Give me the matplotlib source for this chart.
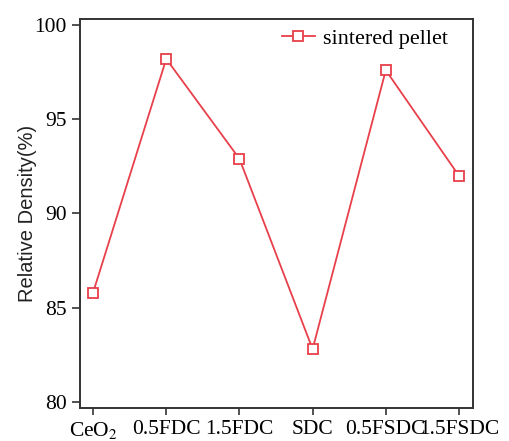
import matplotlib
matplotlib.use("Agg")
import matplotlib.pyplot as plt

# Relative density of sintered pellets per composition
samples = ["CeO$_2$", "0.5FDC", "1.5FDC", "SDC", "0.5FSDC", "1.5FSDC"]
density = [85.8, 98.2, 92.9, 82.8, 97.6, 92.0]
yticks = [80, 85, 90, 95, 100]

RED = "#e8404a"

plt.rcParams["font.family"] = ["Liberation Serif", "DejaVu Serif"]
plt.rcParams["mathtext.fontset"] = "stix"

fig = plt.figure(figsize=(5.09, 4.41), dpi=100)
ax = fig.add_axes([0.157, 0.075, 0.772, 0.882])

x = list(range(len(samples)))
ax.plot(x, density, color=RED, lw=1.3, marker="s", ms=7.5,
        mfc="white", mec=RED, mew=1.3, label="sintered pellet")

ax.set_xlim(-0.18, 5.19)
ax.set_ylim(79.68, 100.32)
ax.set_xticks(x)
ax.set_xticklabels(samples, fontsize=15.5)
ax.set_yticks(yticks)
ax.set_yticklabels([str(v) for v in yticks], fontsize=15.5)
ax.tick_params(axis="x", direction="out", length=5, width=1.2,
               color="#333333", pad=3.5)
ax.tick_params(axis="y", direction="out", length=6, width=1.2,
               color="#333333", pad=3.5)

for sp in ax.spines.values():
    sp.set_linewidth(1.4)
    sp.set_color("#333333")

ax.set_ylabel("Relative Density(%)", fontsize=14.5, color="#222222",
              family=["Liberation Sans", "DejaVu Sans"])
ax.yaxis.set_label_coords(-0.108, 0.5)

ax.legend(loc="upper right", frameon=False, fontsize=16, handlelength=1.5,
          handletextpad=0.35, borderpad=0, borderaxespad=0,
          bbox_to_anchor=(0.936, 0.975))

fig.savefig("out.png", dpi=100)
